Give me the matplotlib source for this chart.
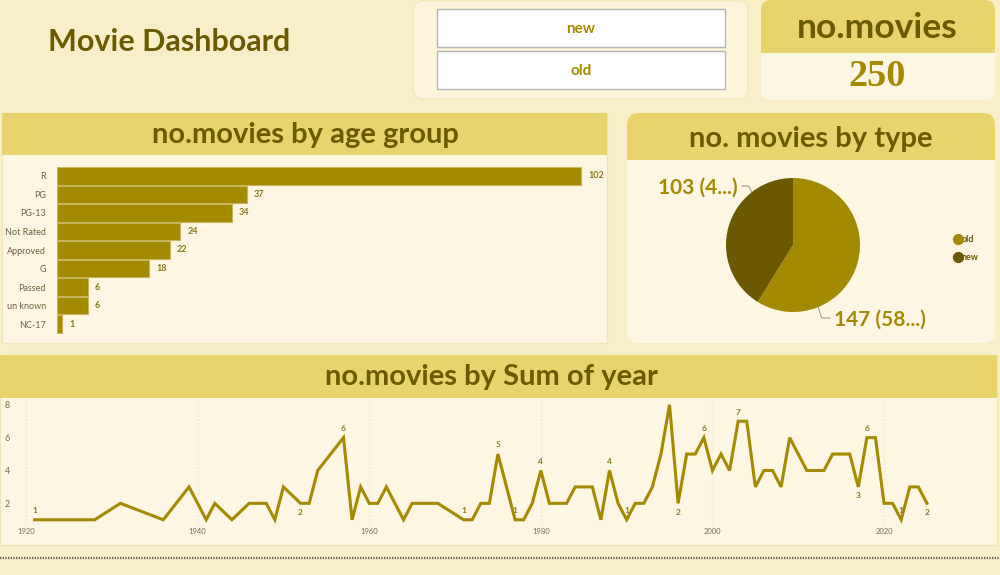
import matplotlib
matplotlib.use("Agg")
import matplotlib.pyplot as plt
from matplotlib.patches import FancyBboxPatch, Rectangle
import numpy as np

# Données
age_groups = ['R', 'PG', 'PG-13', 'Not Rated', 'Approved', 'G', 'Passed', 'un known', 'NC-17']
age_counts = [102, 37, 34, 24, 22, 18, 6, 6, 1]

types = ['old', 'new']
type_counts = [147, 103]
type_labels = ['147 (58...)', '103 (4...)']

total_movies = 250
slicer_items = ['new', 'old']

years = [1921, 1928, 1931, 1936, 1939, 1941, 1942, 1944, 1946, 1948, 1949, 1950,
         1952, 1953, 1954, 1957, 1958, 1959, 1960, 1961, 1962, 1964, 1965, 1968,
         1971, 1972, 1973, 1974, 1975, 1977, 1978, 1979, 1980, 1981, 1983, 1984,
         1986, 1987, 1988, 1989, 1990, 1991, 1992, 1993, 1994, 1995, 1996, 1997,
         1998, 1999, 2000, 2001, 2002, 2003, 2004, 2005, 2006, 2007, 2008, 2009,
         2011, 2013, 2014, 2016, 2017, 2018, 2019, 2020, 2021, 2022, 2023, 2024,
         2025]
year_counts = [1, 1, 2, 1, 3, 1, 2, 1, 2, 2, 1, 3,
               2, 2, 4, 6, 1, 3, 2, 2, 3, 1, 2, 2,
               1, 1, 2, 2, 5, 1, 1, 2, 4, 2, 2, 3,
               3, 1, 4, 2, 1, 2, 2, 3, 5, 8, 2, 5,
               5, 6, 4, 5, 4, 7, 7, 3, 4, 4, 3, 6,
               4, 4, 5, 5, 3, 6, 6, 2, 2, 1, 3, 3,
               2]
# années étiquetées (au-dessus / en dessous de la courbe)
labels_above = [1921, 1957, 1971, 1975, 1977, 1980, 1988, 1990, 1999, 2003, 2018, 2022]
labels_below = [1952, 1996, 2017, 2025]

# Couleurs
BG = '#f8efc9'
BODY = '#fdf6e2'
HEADER = '#e8d36c'
DARK = '#6b5a00'
GOLD = '#a38a00'
LABEL = '#8c7a1e'
FONT = 'Lato'

W, H = 1000, 575
fig = plt.figure(figsize=(10, 5.75), dpi=100)
fig.patch.set_facecolor(BG)

# axe de fond en coordonnées pixels
bg = fig.add_axes([0, 0, 1, 1])
bg.set_xlim(0, W)
bg.set_ylim(H, 0)
bg.axis('off')


def px_axes(x0, y0, x1, y1):
    return fig.add_axes([x0 / W, 1 - y1 / H, (x1 - x0) / W, (y1 - y0) / H])


def panel(x0, y0, x1, y1, color, r=8, ec='none'):
    p = FancyBboxPatch((x0 + r, y0 + r), x1 - x0 - 2 * r, y1 - y0 - 2 * r,
                       boxstyle=f"round,pad={r}", fc=color, ec=ec, lw=1)
    bg.add_patch(p)


# Titre
bg.text(48, 42, 'Movie Dashboard', fontsize=22, fontweight='bold', color=DARK,
        family=FONT, va='center', ha='left')

# Segment (slicer)
panel(413, 1, 748, 99, '#fcf5da', r=10, ec='#f3e8bd')
for i, item in enumerate(slicer_items):
    y0 = 9 + i * 42
    bg.add_patch(Rectangle((437, y0), 288, 38, fc='white', ec='#b5b5b5', lw=1))
    bg.text(581, y0 + 20, item, fontsize=11, fontweight='bold', color=GOLD,
            family=FONT, ha='center', va='center')

# Carte KPI
panel(761, 0, 995, 100, BODY, r=10)
panel(761, 0, 995, 60, HEADER, r=10)
bg.add_patch(Rectangle((761, 45), 234, 8, fc=HEADER, ec='none'))
bg.add_patch(Rectangle((761, 53), 234, 10, fc=BODY, ec='none'))
bg.text(877, 28, 'no.movies', fontsize=25.5, fontweight='bold', color=DARK,
        family=FONT, ha='center', va='center')
bg.text(877, 76, str(total_movies), fontsize=27.5, fontweight='bold', color=GOLD,
        family='Liberation Serif', ha='center', va='center')

# Panneau barres
bg.add_patch(Rectangle((2, 113), 605, 230, fc=BODY, ec='#f0e4b8', lw=1))
bg.add_patch(Rectangle((2, 113), 605, 42, fc=HEADER, ec='none'))
bg.text(305, 135, 'no.movies by age group', fontsize=21, fontweight='bold',
        color=DARK, family=FONT, ha='center', va='center')

# Panneau camembert
panel(627, 113, 995, 343, BODY, r=12)
panel(627, 113, 995, 170, HEADER, r=12)
bg.add_patch(Rectangle((627, 150), 368, 10, fc=HEADER, ec='none'))
bg.add_patch(Rectangle((627, 160), 368, 12, fc=BODY, ec='none'))
bg.text(811, 139, 'no. movies by type', fontsize=21, fontweight='bold',
        color=DARK, family=FONT, ha='center', va='center')

# Panneau courbe
bg.add_patch(Rectangle((0, 355), 997, 190, fc=BODY, ec='#f0e4b8', lw=1))
bg.add_patch(Rectangle((0, 355), 997, 43, fc=HEADER, ec='none'))
bg.text(491, 377, 'no.movies by Sum of year', fontsize=21, fontweight='bold',
        color=DARK, family=FONT, ha='center', va='center')

# Ligne pointillée en bas
bg.plot([0, W], [558, 558], color='#666655', lw=1.6, ls=(0, (0.6, 0.6)))

# ---- Barres horizontales ----
axb = px_axes(57, 166, 600, 334)
axb.set_facecolor('none')
ypos = np.arange(len(age_groups))
axb.barh(ypos, age_counts, height=0.93, color=GOLD, edgecolor='#c9b45a', lw=0.8)
axb.set_xlim(0, 105.7)
axb.set_ylim(8.54, -0.54)
axb.set_yticks(ypos)
axb.set_yticklabels(age_groups, fontsize=6.5, color='#6e6440', family=FONT)
axb.tick_params(axis='y', length=0, pad=8)
axb.set_xticks([])
for s in axb.spines.values():
    s.set_visible(False)
for y, v in zip(ypos, age_counts):
    axb.annotate(str(v), (v, y), xytext=(5, 0), textcoords='offset points',
                 fontsize=6.5, fontweight='bold', color=LABEL, family=FONT,
                 va='center')

# ---- Camembert ----
axp = px_axes(726, 178, 860, 312)
wedges, _ = axp.pie(type_counts, colors=[GOLD, '#6b5900'], startangle=90,
                    counterclock=False, radius=1)
axp.set_xlim(-1, 1)
axp.set_ylim(-1, 1)
axp.set_aspect('equal')
axp.axis('off')
# étiquettes avec traits de rappel
for w, lab, ang, txy, ha in zip(wedges, type_labels, [-68, 128], [(834, 320), (738, 188)],
                                ['left', 'right']):
    a = np.deg2rad(ang)
    ex, ey = 793 + 67 * np.cos(a), 245 - 67 * np.sin(a)
    kx = txy[0] - 4 if ha == 'left' else txy[0] + 4
    bg.plot([ex, ex + (kx - ex) * 0.3, kx], [ey, txy[1] - 2, txy[1] - 2],
            color='#a89f80', lw=0.8)
    bg.text(txy[0], txy[1], lab, fontsize=15, fontweight='bold', color=GOLD,
            family=FONT, ha=ha, va='center')
# légende
for i, (t, c) in enumerate(zip(types, [GOLD, '#6b5900'])):
    bg.scatter([958], [239 + i * 18], s=50, color=c, zorder=5)
    bg.text(962, 239 + i * 18, t, fontsize=6.5, fontweight='bold', color=DARK,
            family=FONT, va='center', ha='left')

# ---- Courbe ----
axl = px_axes(14, 400, 975, 527)
axl.set_facecolor('none')
axl.plot(years, year_counts, color=GOLD, lw=2.2, solid_joinstyle='miter')
axl.set_xlim(1918.6, 2030.6)
axl.set_ylim(0.56, 8.29)
axl.set_yticks([2, 4, 6, 8])
axl.set_xticks([1920, 1940, 1960, 1980, 2000, 2020])
axl.tick_params(axis='y', length=0, labelsize=6.5, labelcolor='#7a7050', pad=3)
axl.tick_params(axis='x', length=0, labelsize=5.5, labelcolor='#7a7050', pad=1)
for lab in axl.get_xticklabels() + axl.get_yticklabels():
    lab.set_family(FONT)
axl.grid(axis='x', color='#efe6c6', ls=':', lw=1)
for s in axl.spines.values():
    s.set_visible(False)
val = dict(zip(years, year_counts))
for yr in labels_above:
    axl.annotate(str(val[yr]), (yr, val[yr]), xytext=(0, 4), textcoords='offset points',
                 ha='center', va='bottom', fontsize=6, fontweight='bold', color=LABEL,
                 family=FONT)
for yr in labels_below:
    axl.annotate(str(val[yr]), (yr, val[yr]), xytext=(0, -4), textcoords='offset points',
                 ha='center', va='top', fontsize=6, fontweight='bold', color=LABEL,
                 family=FONT)

fig.savefig('out.png', dpi=100, facecolor=BG)
